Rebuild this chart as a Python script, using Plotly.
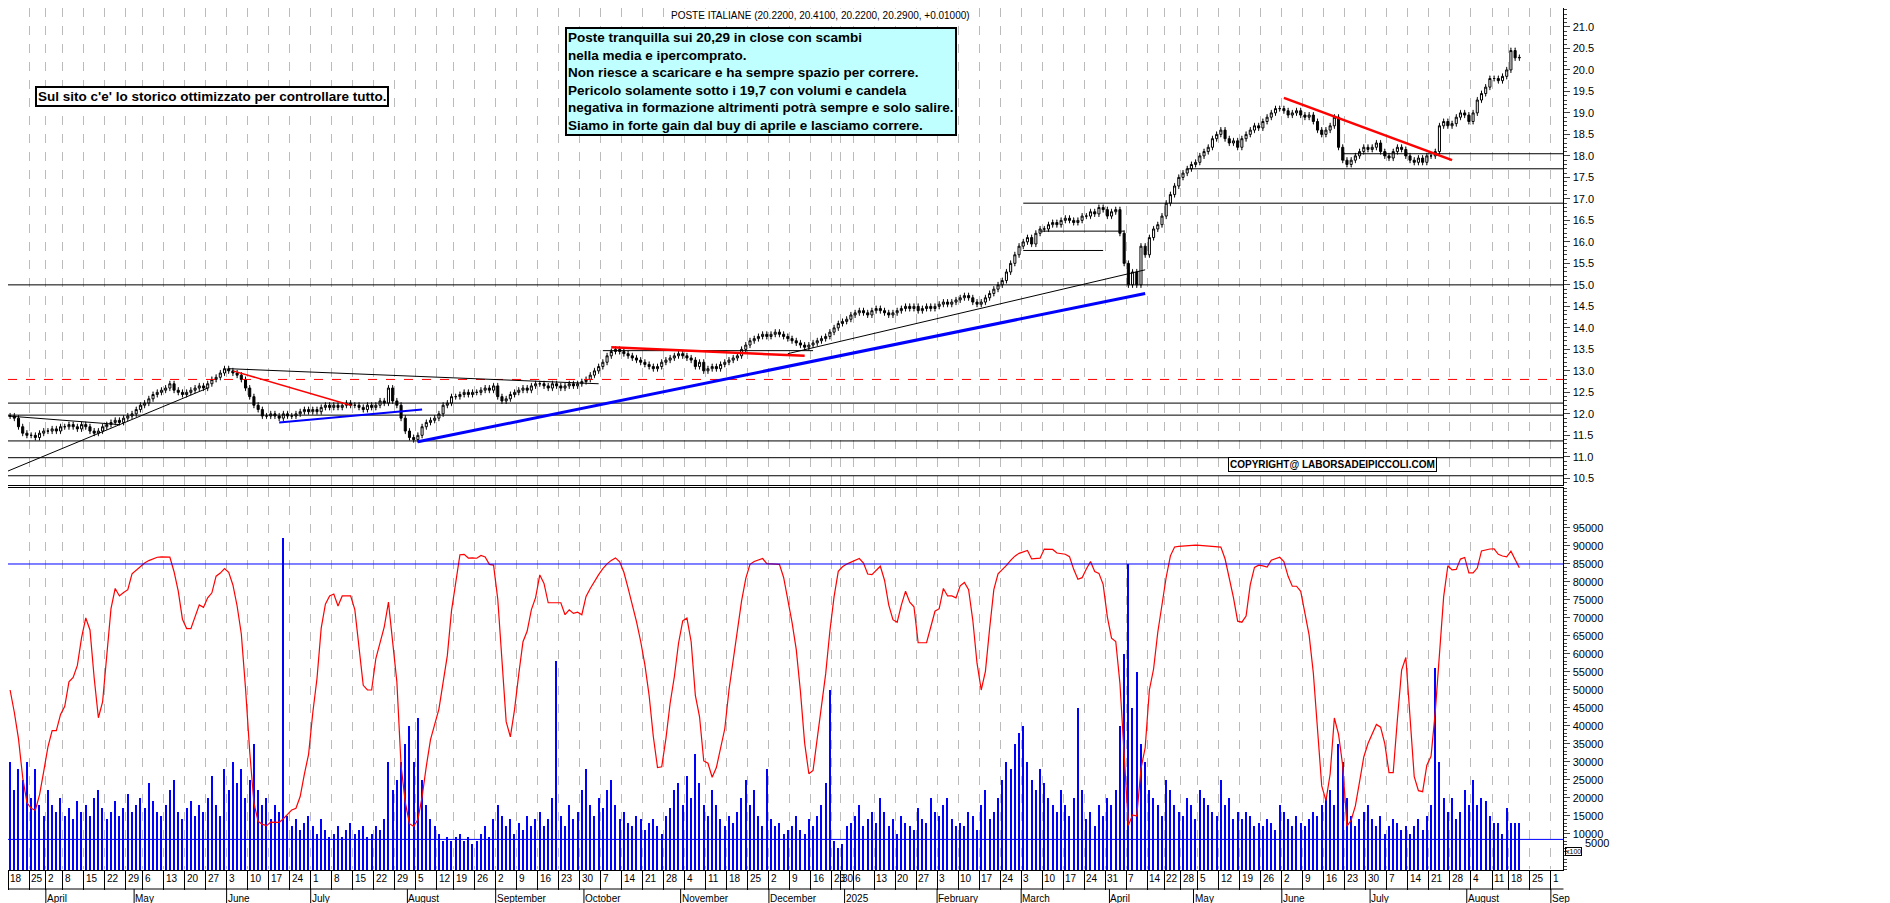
import plotly.graph_objects as go
from plotly.subplots import make_subplots
import pandas as pd

# closes, one list per week (Monday date), holidays get dropped
weeks = {
    "2024-03-18": [11.95, 11.9, 11.7, 11.55, 11.5],
    "2024-03-25": [11.5, 11.45, 11.55, 11.6],
    "2024-04-01": [11.6, 11.65, 11.6, 11.7],
    "2024-04-08": [11.7, 11.75, 11.7, 11.65, 11.75],
    "2024-04-15": [11.7, 11.6, 11.55, 11.6, 11.7],
    "2024-04-22": [11.75, 11.8, 11.85, 11.8, 11.9],
    "2024-04-29": [11.95, 12.0, 12.1, 12.2],
    "2024-05-06": [12.25, 12.35, 12.45, 12.5, 12.55],
    "2024-05-13": [12.6, 12.7, 12.55, 12.5, 12.45],
    "2024-05-20": [12.5, 12.55, 12.6, 12.65, 12.6],
    "2024-05-27": [12.7, 12.8, 12.85, 12.95, 13.05],
    "2024-06-03": [13.0, 12.95, 12.9, 12.8, 12.6],
    "2024-06-10": [12.4, 12.2, 12.1, 11.95, 11.95],
    "2024-06-17": [12.0, 11.95, 11.9, 12.0, 11.95],
    "2024-06-24": [11.95, 12.0, 12.05, 12.1, 12.05],
    "2024-07-01": [12.1, 12.05, 12.15, 12.2, 12.15],
    "2024-07-08": [12.2, 12.15, 12.2, 12.25, 12.2],
    "2024-07-15": [12.2, 12.15, 12.1, 12.2, 12.15],
    "2024-07-22": [12.2, 12.3, 12.25, 12.6, 12.3],
    "2024-07-29": [12.2, 11.9, 11.6, 11.45, 11.4],
    "2024-08-05": [11.5, 11.7, 11.8, 11.85, 11.9],
    "2024-08-12": [12.0, 12.2, 12.25, 12.4],
    "2024-08-19": [12.4, 12.45, 12.5, 12.45, 12.5],
    "2024-08-26": [12.5, 12.55, 12.6, 12.55, 12.65],
    "2024-09-02": [12.4, 12.3, 12.35, 12.45, 12.5],
    "2024-09-09": [12.55, 12.6, 12.55, 12.65, 12.7],
    "2024-09-16": [12.7, 12.65, 12.6, 12.7, 12.65],
    "2024-09-23": [12.6, 12.65, 12.7, 12.65, 12.7],
    "2024-09-30": [12.75, 12.8, 12.9, 13.0, 13.1],
    "2024-10-07": [13.2, 13.35, 13.45, 13.5, 13.45],
    "2024-10-14": [13.4, 13.35, 13.3, 13.25, 13.2],
    "2024-10-21": [13.15, 13.1, 13.05, 13.1, 13.2],
    "2024-10-28": [13.25, 13.3, 13.35, 13.4, 13.35],
    "2024-11-04": [13.3, 13.25, 13.1, 13.2, 13.0],
    "2024-11-11": [13.05, 13.1, 13.05, 13.15, 13.2],
    "2024-11-18": [13.25, 13.3, 13.35, 13.5, 13.6],
    "2024-11-25": [13.7, 13.75, 13.8, 13.85, 13.8],
    "2024-12-02": [13.85, 13.9, 13.85, 13.8, 13.75],
    "2024-12-09": [13.7, 13.65, 13.6, 13.55, 13.6],
    "2024-12-16": [13.65, 13.7, 13.75, 13.8, 13.9],
    "2024-12-23": [14.0, 14.1],
    "2024-12-30": [14.15, 14.2, 14.3],
    "2025-01-06": [14.35, 14.4, 14.35, 14.3, 14.4],
    "2025-01-13": [14.45, 14.4, 14.35, 14.3, 14.35],
    "2025-01-20": [14.4, 14.45, 14.5, 14.45, 14.5],
    "2025-01-27": [14.4, 14.45, 14.5, 14.45, 14.5],
    "2025-02-03": [14.55, 14.6, 14.55, 14.6, 14.65],
    "2025-02-10": [14.7, 14.75, 14.7, 14.6, 14.55],
    "2025-02-17": [14.6, 14.7, 14.8, 14.9, 15.0],
    "2025-02-24": [15.1, 15.3, 15.5, 15.7, 15.9],
    "2025-03-03": [16.0, 16.1, 15.95, 16.2, 16.3],
    "2025-03-10": [16.3, 16.4, 16.45, 16.4, 16.5],
    "2025-03-17": [16.55, 16.5, 16.45, 16.5, 16.6],
    "2025-03-24": [16.6, 16.7, 16.65, 16.8, 16.75],
    "2025-03-31": [16.6, 16.7, 16.75, 16.2, 15.5],
    "2025-04-07": [15.0, 15.3, 15.0, 15.9, 15.7],
    "2025-04-14": [16.1, 16.3, 16.4, 16.6],
    "2025-04-21": [16.9, 17.1, 17.3, 17.5],
    "2025-04-28": [17.6, 17.7, 17.8, 17.85],
    "2025-05-05": [18.0, 18.1, 18.2, 18.4, 18.5],
    "2025-05-12": [18.6, 18.4, 18.3, 18.35, 18.2],
    "2025-05-19": [18.4, 18.5, 18.6, 18.7, 18.65],
    "2025-05-26": [18.8, 18.9, 19.0, 19.1, 19.1],
    "2025-06-02": [19.05, 18.95, 19.0, 19.05, 18.95],
    "2025-06-09": [18.9, 18.95, 18.8, 18.6, 18.5],
    "2025-06-16": [18.6, 18.7, 18.9, 18.2, 17.9],
    "2025-06-23": [17.8, 17.9, 18.0, 18.1, 18.2],
    "2025-06-30": [18.15, 18.2, 18.3, 18.1, 18.0],
    "2025-07-07": [17.95, 18.1, 18.2, 18.15, 18.0],
    "2025-07-14": [17.9, 17.85, 17.95, 17.85, 18.0],
    "2025-07-21": [18.0, 18.1, 18.7, 18.8, 18.7],
    "2025-07-28": [18.75, 18.9, 19.0, 18.95, 18.8],
    "2025-08-04": [19.0, 19.3, 19.45, 19.6, 19.8],
    "2025-08-11": [19.8, 19.75, 19.85, 20.0],
    "2025-08-18": [20.45, 20.28, 20.29],
}

volumes = [
    30000, 22000, 28000, 25000, 30000, 20000, 28000, 18000, 15000,
    22000, 18000, 16000, 20000, 15000, 17000, 14000, 19000, 16000,
    18000, 15000, 20000, 22000, 17000, 14000, 16000, 19000, 15000, 17000,
    21000, 16000, 18000, 20000, 17000, 24000, 19000, 16000, 15000,
    18000, 22000, 25000, 16000, 14000, 17000, 19000, 15000, 18000, 16000,
    20000, 26000, 18000, 15000, 28000, 22000, 30000, 24000, 28000, 20000,
    25000, 35000, 22000, 18000, 20000, 14000, 18000, 16000, 92000, 15000,
    12000, 14000, 11000, 13000, 15000, 12000, 10000, 14000, 11000, 9000,
    10000, 12000, 9000, 11000, 13000, 10000, 11000, 12000, 9000, 10000,
    12000, 11000, 14000, 30000, 22000, 25000, 30000, 35000, 40000, 30000,
    42000, 25000, 18000, 14000, 12000, 10000, 8000, 9000, 8000,
    9000, 10000, 8000, 9000, 7000, 8000, 10000, 12000, 9000, 14000,
    18000, 15000, 12000, 14000, 10000, 13000, 11000, 15000, 12000, 14000,
    16000, 12000, 14000, 20000, 58000, 15000, 12000, 18000, 14000, 16000,
    22000, 28000, 18000, 15000, 20000, 17000, 22000, 25000, 18000, 14000,
    16000, 13000, 12000, 15000, 14000, 11000, 13000, 14000, 12000, 10000,
    15000, 17000, 22000, 24000, 18000, 26000, 20000, 32000, 24000, 18000,
    15000, 22000, 18000, 14000, 12000, 15000, 13000, 16000, 20000, 25000,
    18000, 22000, 15000, 12000, 28000, 14000, 12000, 13000, 10000, 11000,
    12000, 15000, 11000, 10000, 14000, 12000, 15000, 18000, 24000, 50000,
    8000, 6000, 7000, 12000, 13000,
    15000, 18000, 12000, 14000, 16000, 13000, 20000, 16000, 12000, 14000,
    10000, 15000, 13000, 12000, 11000, 17000, 14000, 13000, 20000, 16000,
    15000, 18000, 20000, 14000, 12000, 13000, 12000, 16000, 15000, 11000,
    18000, 22000, 14000, 16000, 20000, 25000, 30000, 28000, 35000, 38000,
    40000, 30000, 25000, 22000, 28000, 24000, 20000, 18000, 16000, 22000,
    18000, 15000, 20000, 45000, 22000, 14000, 16000, 12000, 18000, 15000,
    20000, 18000, 22000, 40000, 60000, 85000, 45000, 55000, 35000, 30000,
    22000, 20000, 18000, 15000, 25000, 22000, 18000, 16000, 15000, 20000, 18000, 14000,
    22000, 20000, 18000, 16000, 15000, 25000, 18000, 20000, 14000, 16000,
    14000, 16000, 15000, 12000, 13000, 12000, 14000, 13000, 11000, 18000,
    16000, 14000, 12000, 15000, 13000, 12000, 14000, 16000, 15000, 18000,
    20000, 22000, 18000, 35000, 30000, 20000, 15000, 12000, 14000, 16000,
    18000, 14000, 12000, 15000, 10000, 12000, 14000, 13000, 11000, 12000,
    10000, 12000, 14000, 11000, 15000, 18000, 56000, 30000, 20000, 16000,
    20000, 14000, 16000, 22000, 18000, 25000, 18000, 20000, 19000, 15000,
    13000, 13000, 10000, 17000, 13000, 13000, 13000,
]

holidays = ["2024-03-29", "2024-04-01", "2024-05-01", "2024-08-15", "2024-12-24",
            "2024-12-25", "2024-12-26", "2024-12-31", "2025-01-01", "2025-04-18",
            "2025-04-21", "2025-05-01", "2025-08-15"]
hol = set(pd.to_datetime(holidays))

dates, closes = [], []
for wk, vals in weeks.items():
    days = [d for d in pd.bdate_range(wk, periods=5) if d not in hol]
    for d, v in zip(days, vals):
        dates.append(d)
        closes.append(v)
n = len(dates)
volumes = (volumes + [12000] * n)[:n]

# axis extends a bit past the last bar
alldates = dates + [d for d in pd.bdate_range("2025-08-21", "2025-09-03")]

df = pd.DataFrame({"date": dates, "close": closes, "vol": volumes})
df["open"] = df["close"].shift(1).fillna(df["close"])
df["high"] = df[["open", "close"]].max(axis=1) + 0.06
df["low"] = df[["open", "close"]].min(axis=1) - 0.06
lo = df["low"].rolling(14, min_periods=1).min()
hi = df["high"].rolling(14, min_periods=1).max()
k = ((df["close"] - lo) / (hi - lo)).rolling(3, min_periods=1).mean()
df["osc"] = 8000 + k * 84000

idx = {d: i for i, d in enumerate(alldates)}
def xi(s):
    d = pd.Timestamp(s)
    while d not in idx:
        d += pd.Timedelta(days=1)
    return idx[d]

fig = make_subplots(rows=2, cols=1, shared_xaxes=True, vertical_spacing=0.004,
                    row_heights=[0.5, 0.45])
x = list(range(n))
fig.add_trace(go.Candlestick(x=x, open=df["open"], high=df["high"], low=df["low"], close=df["close"],
                             increasing=dict(line=dict(color="black", width=1), fillcolor="white"),
                             decreasing=dict(line=dict(color="black", width=1), fillcolor="black"),
                             whiskerwidth=0.3), row=1, col=1)
fig.add_trace(go.Bar(x=x, y=df["vol"], marker=dict(color="#0000FF", line=dict(width=0)), width=0.3),
              row=2, col=1)
fig.add_trace(go.Scatter(x=x, y=df["osc"], mode="lines", line=dict(color="red", width=1.2)), row=2, col=1)

last = len(alldates) - 0.5
def seg(x0, y0, x1, y1, color="black", width=1, dash="solid", row=1):
    yr = "y" if row == 1 else "y2"
    fig.add_shape(type="line", xref="x", yref=yr, x0=x0, y0=y0, x1=x1, y1=y1,
                  line=dict(color=color, width=width, dash=dash))

for lvl in [15.0, 12.25, 11.97, 11.37, 10.98, 10.56]:
    seg(-0.5, lvl, last, lvl)
seg(-0.5, 12.8, last, 12.8, color="red", dash="dash")
seg(xi("2025-03-03"), 16.9, last, 16.9)
seg(xi("2025-04-29"), 17.7, last, 17.7)
seg(xi("2025-06-20"), 18.05, last, 18.05)
seg(xi("2025-03-03"), 15.8, xi("2025-03-28"), 15.8)
seg(xi("2025-03-07"), 16.25, xi("2025-04-04"), 16.25)
seg(xi("2024-10-07"), 13.47, xi("2024-12-16"), 13.47)
seg(-0.5, 10.67, xi("2024-05-27"), 12.6)
seg(-0.5, 11.95, xi("2024-04-25"), 11.75)
seg(xi("2024-06-03"), 13.05, xi("2024-10-04"), 12.7)
seg(xi("2024-06-04"), 13.0, xi("2024-07-12"), 12.2, color="red", width=1.5)
seg(xi("2024-06-19"), 11.8, xi("2024-08-06"), 12.1, color="#0000FF", width=2)
seg(xi("2024-08-05"), 11.35, xi("2025-04-11"), 14.8, color="#0000FF", width=3)
seg(xi("2024-12-06"), 13.4, xi("2025-04-11"), 15.35)
seg(xi("2024-10-09"), 13.55, xi("2024-12-12"), 13.35, color="red", width=2.5)
seg(xi("2025-06-02"), 19.35, xi("2025-07-28"), 17.9, color="red", width=2.5)
seg(-0.5, 85000, last, 85000, color="#0000FF", row=2)
seg(-0.5, 8500, last, 8500, color="#0000FF", row=2)

vbot = 41 / 903
# week ticks (day numbers) and month labels
tickv = []
prev = None
for i, d in enumerate(alldates):
    wk = d.isocalendar()[1]
    if wk != prev:
        tickv.append(i)
        fig.add_annotation(x=i - 0.5, y=vbot, xref="x", yref="paper", xanchor="left", yanchor="top",
                           text=str(d.day), showarrow=False, yshift=-1,
                           font=dict(size=10, color="black"))
    prev = wk
fig.add_shape(type="line", xref="paper", yref="paper", x0=0, x1=0.823, y0=22 / 903, y1=22 / 903,
              line=dict(color="black", width=1))
prevm = None
for i, d in enumerate(alldates):
    if d.month != prevm and i > 0:
        lab = "2025" if (d.year == 2025 and d.month == 1) else d.strftime("%B")
        if d.year == 2025 and d.month == 9:
            lab = "Sep"
        fig.add_annotation(x=i - 0.5, y=6 / 903, xref="x", yref="paper", yanchor="bottom", xanchor="left",
                           text=lab, showarrow=False, borderpad=0,
                           font=dict(size=10, color="black"))
        fig.add_shape(type="line", xref="x", yref="paper", x0=i - 0.5, x1=i - 0.5, y0=0, y1=22 / 903,
                      line=dict(color="black", width=1))
    prevm = d.month

ax = dict(showgrid=True, gridcolor="#BBBBBB", griddash="dash", gridwidth=1, showline=True,
          linecolor="black", mirror=True, zeroline=False, range=[-0.5, last],
          tickvals=[t - 0.5 for t in tickv], showticklabels=False)
fig.update_xaxes(**ax)
fig.update_xaxes(ticks="outside", ticklen=19, tickcolor="black", row=2, col=1)
fig.update_yaxes(side="right", range=[10.35, 21.44], dtick=0.5, tickformat=".1f", ticks="outside",
                 ticklen=6, showgrid=False, showline=True, linecolor="black", mirror=True,
                 minor=dict(dtick=0.1, ticks="outside", ticklen=3), tickfont=dict(size=11, color="black"),
                 row=1, col=1)
fig.update_yaxes(side="right", range=[0, 106000], tickvals=list(range(10000, 100000, 5000)),
                 tickformat="d", ticks="outside", ticklen=6, showgrid=False, showline=True,
                 linecolor="black", mirror=True,
                 minor=dict(dtick=1000, ticks="outside", ticklen=3), tickfont=dict(size=11, color="black"),
                 row=2, col=1)
fig.update_layout(xaxis=dict(domain=[0, 0.823]), xaxis2=dict(domain=[0, 0.823]),
                  yaxis=dict(domain=[0.472, 1.0]), yaxis2=dict(domain=[vbot, 0.468]))

fig.add_annotation(x=812 / 1890, y=1, xref="paper", yref="paper", yanchor="top", showarrow=False,
                   text="POSTE ITALIANE (20.2200, 20.4100, 20.2200, 20.2900, +0.01000)",
                   font=dict(size=10, color="black"), bgcolor="white")
box = ("Poste tranquilla sui 20,29 in close con scambi<br>nella media e ipercomprato.<br>"
       "Non riesce a scaricare e ha sempre spazio per correre.<br>"
       "Pericolo solamente sotto i 19,7 con volumi e candela<br>"
       "negativa in formazione altrimenti potrà sempre e solo salire.<br>"
       "Siamo in forte gain dal buy di aprile e lasciamo correre.")
fig.add_annotation(x=557 / 1890, y=1 - 19 / 903, xref="paper", yref="paper", xanchor="left", yanchor="top",
                   showarrow=False, text="<b>" + box + "</b>", align="left", bgcolor="#C0FFFF",
                   bordercolor="black", borderwidth=2, borderpad=1,
                   font=dict(size=13.5, color="black", family="Arial"))
fig.add_annotation(x=27 / 1890, y=1 - 78 / 903, xref="paper", yref="paper", xanchor="left",
                   showarrow=False, text="<b>Sul sito c'e' lo storico ottimizzato per controllare tutto.</b>",
                   bgcolor="white", bordercolor="black", borderwidth=2, borderpad=1,
                   font=dict(size=13.5, color="black", family="Arial"))
fig.add_annotation(x=1220 / 1890, y=1 - 456 / 903, xref="paper", yref="paper", xanchor="left",
                   showarrow=False, text="<b>COPYRIGHT@ LABORSADEIPICCOLI.COM</b>",
                   bgcolor="white", bordercolor="black", borderwidth=1, borderpad=1,
                   font=dict(size=10, color="black", family="Arial"))
fig.add_annotation(x=1557 / 1890, y=1 - 848 / 903, xref="paper", yref="paper", xanchor="left",
                   showarrow=False, text="x100", bordercolor="black", borderwidth=1, borderpad=0,
                   font=dict(size=7, color="black"))
fig.add_annotation(x=1575 / 1890, y=1 - 843 / 903, xref="paper", yref="paper", xanchor="left",
                   showarrow=False, text="5000", font=dict(size=11, color="black"))

fig.update_layout(width=1890, height=903, margin=dict(l=0, r=0, t=0, b=0), showlegend=False,
                  plot_bgcolor="white", paper_bgcolor="white", bargap=0,
                  font=dict(family="Arial, Liberation Sans", color="black"),
                  xaxis_rangeslider_visible=False)
fig.write_html("out.html")
